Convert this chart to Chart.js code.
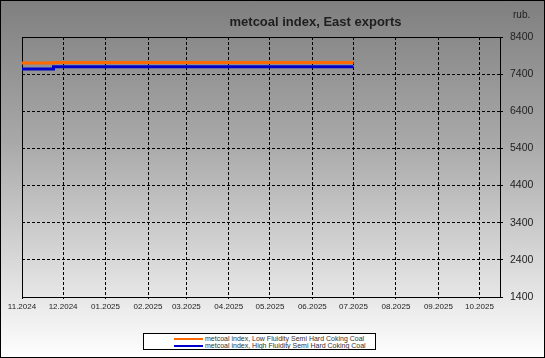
<!DOCTYPE html>
<html>
<head>
<meta charset="utf-8">
<script src="https://cdn.jsdelivr.net/npm/chart.js@4/dist/chart.umd.min.js"></script>
<style>
  html, body { margin: 0; padding: 0; }
  #wrap { position: relative; width: 545px; height: 358px; overflow: hidden;
    background: linear-gradient(to bottom, #7f7f7f 0%, #a9a9a9 40%, #ffffff 100%);
    font-family: "Liberation Sans", Arial, sans-serif; }
  #c { position: absolute; left: 0; top: 0; }
  #frame { position: absolute; left: 0; top: 0; width: 545px; height: 358px; box-sizing: border-box; border: 1px solid #000; pointer-events: none; }
  #title { position: absolute; left: 228px; top: 14px; width: 175px; text-align: center; font-weight: bold; font-size: 13px; line-height: 16px; color: #1e1e1e; white-space: nowrap; }
  #unit { position: absolute; left: 513px; top: 9px; font-size: 10px; line-height: 12px; color: #1e1e1e; }
  #legend { position: absolute; left: 143px; top: 333px; width: 233px; height: 17px; box-sizing: border-box; background: #fff; border: 1px solid #000; }
  .row { position: absolute; left: 30px; height: 8px; font-size: 7px; line-height: 8px; color: #333; white-space: nowrap; }
  .row span.ln { position: absolute; left: 0; top: 3px; width: 29px; height: 2px; }
  .row span.tx { position: absolute; left: 31px; top: 0; }
</style>
</head>
<body>
<div id="wrap">
  <canvas id="c" width="545" height="358"></canvas>
  <div id="title">metcoal index, East exports</div>
  <div id="unit">rub.</div>
  <div id="legend">
    <div class="row" style="top:1px"><span class="ln" style="background:#ff6a00"></span><span class="tx">metcoal index, Low Fluidity Semi Hard Coking Coal</span></div>
    <div class="row" style="top:8px"><span class="ln" style="background:#0000c8"></span><span class="tx">metcoal index, High Fluidity Semi Hard Coking Coal</span></div>
  </div>
  <div id="frame"></div>
</div>
<script>
// ---- data ----
const dates = ['2024-11-01', '2024-11-24', '2025-07-01'];
const lowFluidity = [7700, 7715, 7715];
const highFluidity = [7540, 7600, 7600];
const monthTicks = ['2024-11-01','2024-12-01','2025-01-01','2025-02-01','2025-03-01','2025-04-01','2025-05-01','2025-06-01','2025-07-01','2025-08-01','2025-09-01','2025-10-01'];
const monthLabels = ['11.2024','12.2024','01.2025','02.2025','03.2025','04.2025','05.2025','06.2025','07.2025','08.2025','09.2025','10.2025'];
const yTicks = [1400, 2400, 3400, 4400, 5400, 6400, 7400, 8400];
const seriesNames = ['metcoal index, Low Fluidity Semi Hard Coking Coal', 'metcoal index, High Fluidity Semi Hard Coking Coal'];
const xMin = '2024-11-01';
const xMax = '2025-10-16';

const ts = d => Date.parse(d + 'T00:00:00Z');
const toPts = vals => dates.map((d, i) => ({ x: ts(d), y: vals[i] }));
const tickVals = monthTicks.map(ts);

const framePlugin = {
  id: 'frame',
  beforeDatasetsDraw(chart) {
    const { ctx, chartArea: a } = chart;
    ctx.save();
    ctx.strokeStyle = '#000';
    ctx.lineWidth = 1;
    ctx.beginPath();
    ctx.moveTo(a.left + 0.5, a.bottom);
    ctx.lineTo(a.left + 0.5, a.top + 0.5);
    ctx.lineTo(a.right, a.top + 0.5);
    ctx.stroke();
    ctx.restore();
  }
};

new Chart(document.getElementById('c'), {
  type: 'line',
  data: {
    datasets: [
      { label: seriesNames[0], data: toPts(lowFluidity), borderColor: '#ff6a00', borderWidth: 3, pointRadius: 0, stepped: 'before', fill: false },
      { label: seriesNames[1], data: toPts(highFluidity), borderColor: '#0000c8', borderWidth: 3, pointRadius: 0, stepped: 'before', fill: false }
    ]
  },
  options: {
    responsive: false,
    animation: false,
    events: [],
    layout: { padding: { left: 22, top: 37, right: 0, bottom: 0 } },
    plugins: { legend: { display: false }, title: { display: false }, tooltip: { enabled: false } },
    scales: {
      x: {
        type: 'linear',
        min: ts(xMin),
        max: ts(xMax),
        afterBuildTicks: s => { s.ticks = tickVals.map(v => ({ value: v })); },
        afterFit: s => { s.height = 61; },
        grid: { color: '#000', lineWidth: 1, tickLength: 2 },
        border: { display: true, color: '#000', width: 1, dash: [3, 2] },
        ticks: {
          autoSkip: false, maxRotation: 0, minRotation: 0, padding: 3,
          color: '#222', font: { family: 'Liberation Sans', size: 8 },
          callback: (v, i) => monthLabels[i]
        }
      },
      y: {
        position: 'right',
        min: yTicks[0],
        max: yTicks[yTicks.length - 1],
        afterBuildTicks: s => { s.ticks = yTicks.map(v => ({ value: v })); },
        afterFit: s => { s.width = 45; },
        grid: { color: '#000', lineWidth: 1, tickLength: 3 },
        border: { display: true, color: '#000', width: 1, dash: [3, 2] },
        ticks: {
          padding: 7, color: '#222', font: { family: 'Liberation Sans', size: 10.5 },
          callback: v => String(v)
        }
      }
    }
  },
  plugins: [framePlugin]
});
</script>
</body>
</html>
